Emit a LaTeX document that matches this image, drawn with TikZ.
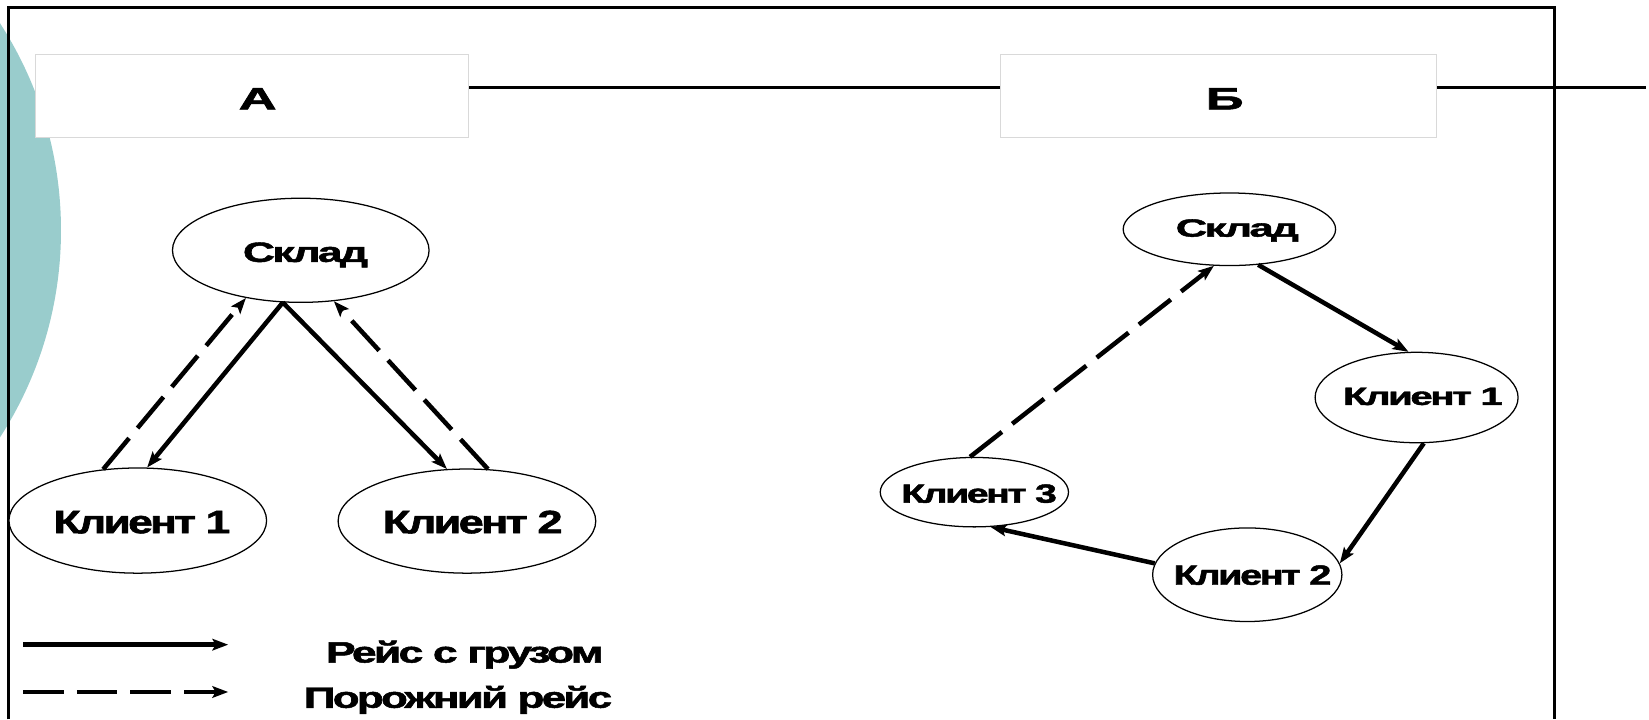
\documentclass[tikz,border=0pt]{standalone}
\usepackage{fontspec}
\setmainfont{Liberation Sans}[BoldFeatures={FakeBold=1.6,LetterSpace=-6}]
\usepackage{graphicx}
\usetikzlibrary{shapes.geometric,arrows.meta}
\definecolor{seafoam}{RGB}{153,204,204}
\definecolor{boxedge}{RGB}{217,217,217}
% set text at a given size and stretch it to a given width
\newcommand{\fs}[1]{\fontsize{#1}{#1}\selectfont}
\newcommand{\widthto}[2]{\resizebox{#1}{\height}{#2}}

\begin{document}
\begin{tikzpicture}[x=1pt,y=-1pt,
  place/.style={draw, ellipse, line width=1.2pt, fill=white, inner sep=0pt},
  headbox/.style={draw=boxedge, line width=1pt, fill=white, inner sep=0pt},
  word/.style={anchor=base, inner sep=0pt, font=\bfseries},
  haul/.style={line width=4.3pt, -{Stealth[length=15pt,width=11pt,inset=3pt]}},
  deadhead/.style={haul, dash pattern=on 38.5pt off 12.5pt},
  frameline/.style={line width=2.5pt},
]
\useasboundingbox (0,0) rectangle (1568,684);

% decorative disc on the left edge
\fill[seafoam] (-305,219) circle[radius=363];

% outer frame
\draw[frameline] (8,684) -- (8,7) -- (1478,7) -- (1478,684);

% header boxes and the rule through them
\node[headbox, minimum width=412pt, minimum height=79pt] (hA) at (239.5,91.5) {};
\node[headbox, minimum width=415pt, minimum height=79pt] (hB) at (1158.5,91.5) {};
\coordinate (ruleend) at (1565,83);
\draw[line width=3pt] (hA.east |- ruleend) -- (hB.west |- ruleend);
\draw[line width=3pt] (hB.east |- ruleend) -- (ruleend);
\node[word] (tA) at (245,104) {\fs{29.3}\widthto{36pt}{А}};
\node[word] (tB) at (1164.5,104) {\fs{29.3}\widthto{36pt}{Б}};

% scheme A: pendulum routes
\node[place, minimum width=244pt, minimum height=99pt] (skA) at (286,238) {};
\node[place, minimum width=245pt, minimum height=100pt] (k1A) at (131,495) {};
\node[place, minimum width=245pt, minimum height=99pt] (k2A) at (444,495.5) {};
\node[word] (tskA) at (290.5,249) {\fs{26.5}\widthto{119pt}{Склад}};
\node[word] (tk1A) at (135,507) {\fs{30.7}\widthto{168pt}{Клиент 1}};
\node[word] (tk2A) at (449.5,507) {\fs{30.7}\widthto{171pt}{Клиент 2}};

\draw[deadhead] (k1A.124.2) -- (skA.221.3);
\draw[haul] (skA.251) -- (k1A.80.9);
\draw[haul] (skA.251) -- (k2A.111);
\draw[deadhead] (k2A.68.5) -- (skA.303.4);

% scheme B: ring route
\node[place, minimum width=202pt, minimum height=69pt] (skB) at (1169,218) {};
\node[place, minimum width=193pt, minimum height=86pt] (k1B) at (1347,378) {};
\node[place, minimum width=180pt, minimum height=89pt] (k2B) at (1186,546.5) {};
\node[place, minimum width=179pt, minimum height=66pt] (k3B) at (926.5,468) {};
\node[word] (tskB) at (1176.5,225) {\fs{23.7}\widthto{117pt}{Склад}};
\node[word] (tk1B) at (1353,385) {\fs{23.7}\widthto{152pt}{Клиент 1}};
\node[word] (tk2B) at (1191,556) {\fs{26.5}\widthto{150pt}{Клиент 2}};
\node[word] (tk3B) at (931,478) {\fs{25}\widthto{148pt}{Клиент 3}};

\draw[haul] (skB.309) -- (k1B.100);
\draw[haul] (k1B.279.5) -- (k2B.7.7);
\draw[haul] (k2B.173) -- (k3B.295);
\draw[deadhead] (k3B.97.6) -- (skB.247);

% legend
\coordinate (l1s) at (22,613);
\coordinate (l1e) at (217,613);
\coordinate (l2s) at (22,658);
\coordinate (l2e) at (217,658);
\draw[haul] (l1s) -- (l1e);
\draw[deadhead] (l2s) -- (l2e);
\node[word] (leg1) at (442,630) {\fs{28}\widthto{264pt}{Рейс с грузом}};
\node[word] (leg2) at (435.5,673) {\fs{28}\widthto{293pt}{Порожний рейс}};
\end{tikzpicture}
\end{document}
